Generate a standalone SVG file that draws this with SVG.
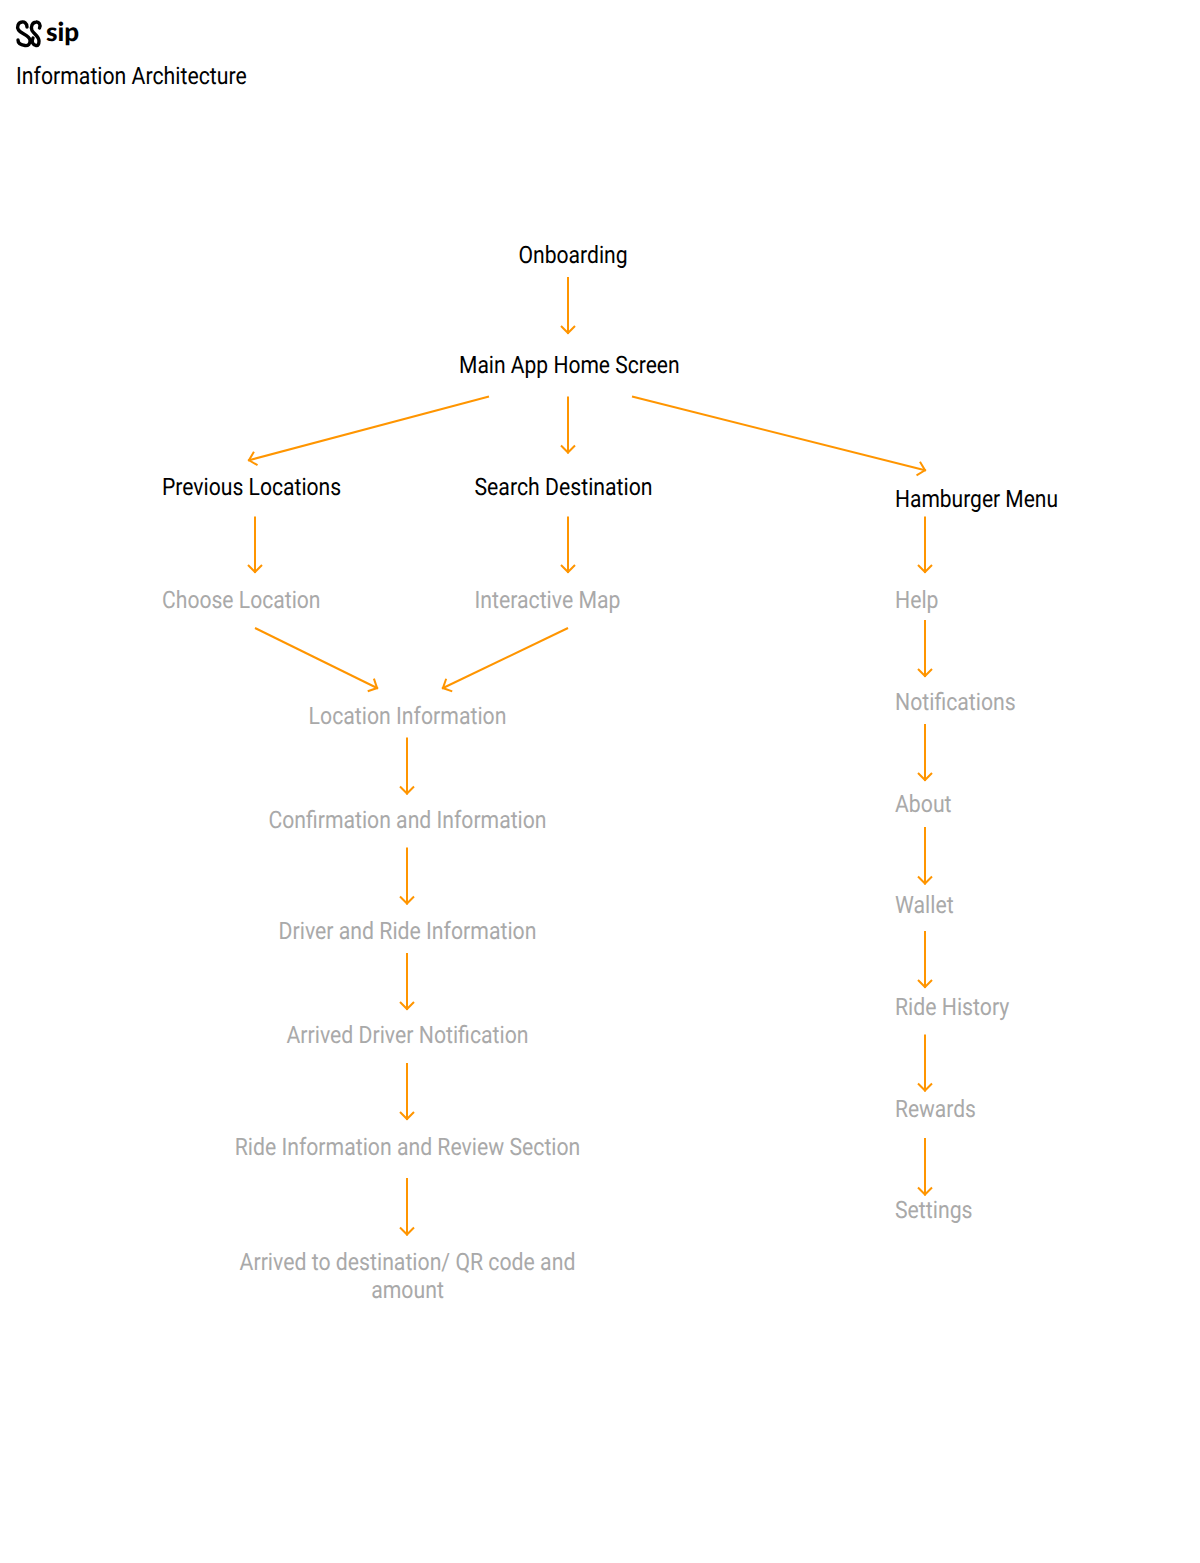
<svg xmlns="http://www.w3.org/2000/svg" width="1200" height="1563" viewBox="0 0 1200 1563">
<style>
text{font-family:Roboto,"Liberation Sans",sans-serif;font-size:24px;text-rendering:geometricPrecision}
.k{fill:#000}
.g{fill:#a9a9a9}
.m{text-anchor:middle}
.c line{stroke:#ff9500;stroke-width:2;fill:none;marker-end:url(#a)}
.s{fill:none;stroke:#000;stroke-width:3.400;stroke-linecap:round}
</style>
<defs><marker id="a" markerUnits="userSpaceOnUse" markerWidth="20" markerHeight="20" refX="15" refY="8" orient="auto"><path d="M7 1L14 8L7 15" fill="none" stroke="#ff9500" stroke-width="2"/></marker></defs>
<rect width="1200" height="1563" fill="#fff"/>
<g id="logo"><path class="s" d="M27 27C27 23 24 21.500 22 22C18 22.500 16.500 27 18.500 30C21 34 29 35 30 40C30.500 44 28 46 25 45.500C21 45 18 43 18 40"/><path class="s" d="M39.500 28C41 25 39 21.500 36 22C32 22.500 30.500 27 32 30.500C34 34 39 36 39 41C39 44 38 46 36 45.500C33 45 31 42 33 38"/><text x="46" y="41" style="font-family:Lato,sans-serif;font-weight:900;font-size:26px" class="k">sip</text></g>
<text id="title" transform="matrix(.885 0 0 1 16 84)" class="k">Information Architecture</text>
<g id="connectors" class="c">
<line x1="568" y1="277" x2="568" y2="334"/>
<line x1="568" y1="396.500" x2="568" y2="453.500"/>
<line x1="489" y1="396.500" x2="248" y2="460.500"/>
<line x1="632" y1="396.500" x2="926" y2="470.500"/>
<line x1="255" y1="516.500" x2="255" y2="573"/>
<line x1="568" y1="516.500" x2="568" y2="573"/>
<line x1="255" y1="628" x2="378" y2="688.500"/>
<line x1="568" y1="628" x2="442" y2="688.500"/>
<line x1="407" y1="737.500" x2="407" y2="794.500"/>
<line x1="407" y1="847.500" x2="407" y2="904.500"/>
<line x1="407" y1="953" x2="407" y2="1010"/>
<line x1="407" y1="1063" x2="407" y2="1120"/>
<line x1="407" y1="1178" x2="407" y2="1235.500"/>
<line x1="925" y1="516.500" x2="925" y2="573"/>
<line x1="925" y1="620" x2="925" y2="677"/>
<line x1="925" y1="724" x2="925" y2="781"/>
<line x1="925" y1="827" x2="925" y2="884.500"/>
<line x1="925" y1="931" x2="925" y2="988"/>
<line x1="925" y1="1034.500" x2="925" y2="1091.500"/>
<line x1="925" y1="1138" x2="925" y2="1195.500"/>
</g>
<g id="onboarding"><text transform="matrix(.88 0 0 1 518.500 263)" class="k">Onboarding</text></g>
<g id="main-app"><text transform="matrix(.877 0 0 1 459 373)" class="k">Main App Home Screen</text></g>
<g id="previous-locations"><text transform="matrix(.88 0 0 1 162 495)" class="k">Previous Locations</text></g>
<g id="search-destination"><text transform="matrix(.885 0 0 1 474.500 495)" class="k">Search Destination</text></g>
<g id="hamburger-menu"><text transform="matrix(.875 0 0 1 895 506.500)" class="k">Hamburger Menu</text></g>
<g id="choose-location"><text transform="matrix(.88 0 0 1 162 608)" class="g">Choose Location</text></g>
<g id="interactive-map"><text transform="matrix(.885 0 0 1 474.500 608)" class="g">Interactive Map</text></g>
<g id="location-information"><text transform="matrix(.885 0 0 1 407.500 723.500)" class="g m">Location Information</text></g>
<g id="confirmation"><text transform="matrix(.882 0 0 1 407.500 827.500)" class="g m">Confirmation and Information</text></g>
<g id="driver-ride"><text transform="matrix(.885 0 0 1 407.500 939)" class="g m">Driver and Ride Information</text></g>
<g id="arrived-driver"><text transform="matrix(.885 0 0 1 407.500 1043)" class="g m">Arrived Driver Notification</text></g>
<g id="ride-review"><text transform="matrix(.884 0 0 1 407.500 1154.500)" class="g m">Ride Information and Review Section</text></g>
<g id="arrived-destination"><text transform="matrix(.885 0 0 1 407.500 1270)" class="g m"><tspan x="0" y="0">Arrived to destination/ QR code and</tspan><tspan x="0" y="28">amount</tspan></text></g>
<g id="help"><text transform="matrix(.885 0 0 1 895 608)" class="g">Help</text></g>
<g id="notifications"><text transform="matrix(.885 0 0 1 895 710)" class="g">Notifications</text></g>
<g id="about"><text transform="matrix(.885 0 0 1 895 812)" class="g">About</text></g>
<g id="wallet"><text transform="matrix(.885 0 0 1 895 913)" class="g">Wallet</text></g>
<g id="ride-history"><text transform="matrix(.885 0 0 1 895 1015)" class="g">Ride History</text></g>
<g id="rewards"><text transform="matrix(.875 0 0 1 895 1116.500)" class="g">Rewards</text></g>
<g id="settings"><text transform="matrix(.885 0 0 1 895 1218)" class="g">Settings</text></g>
</svg>
